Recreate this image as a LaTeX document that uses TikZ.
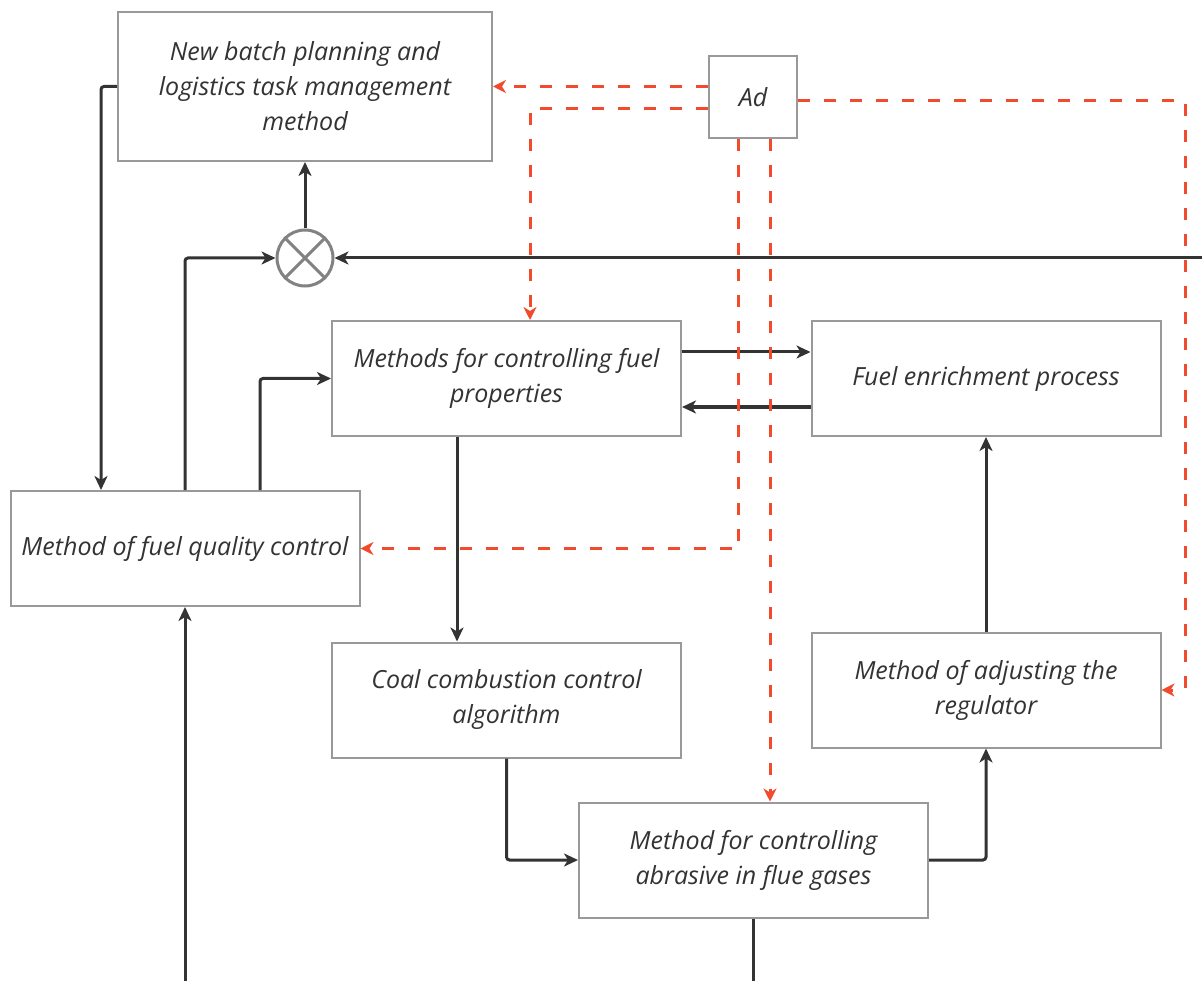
\documentclass[tikz,border=0pt]{standalone}
\usepackage{fontspec}
\setmainfont{Open Sans}
\usetikzlibrary{arrows.meta, calc, positioning}
\definecolor{lineDark}{HTML}{333333}
\definecolor{boxGray}{HTML}{999999}
\definecolor{adRed}{HTML}{F24A2C}
\tikzset{
    blockBox/.style={draw=boxGray, line width=2pt, fill=white, inner sep=2pt, align=center, text=lineDark, font=\fontsize{25}{35}\selectfont\itshape, minimum width=349pt, minimum height=115pt},
    sumNode/.style={circle, draw=boxGray!85!black, line width=3pt, fill=white, minimum size=56pt, inner sep=0pt},
    flowEdge/.style={-{Stealth[length=14pt, width=13pt, inset=4pt]}, line width=3pt, draw=lineDark, rounded corners=3pt},
    flowLine/.style={line width=3pt, draw=lineDark},
    adEdge/.style={-{Stealth[length=13pt, width=13pt, inset=4pt]}, line width=3pt, draw=adRed, dash pattern=on 12pt off 14pt},
}
\newcommand{\drawLink}[3][flowEdge]{
    \draw[#1] (#2) -- (#3);
}

\begin{document}
\begin{tikzpicture}[x=1pt, y=-1pt]
        \useasboundingbox (0,0) rectangle (1202,981);

        \node[blockBox, minimum width=374pt, minimum height=149pt] (NB) at (305, 86.5) {New batch planning and\\logistics task management\\method};
        \node[blockBox, minimum width=88pt, minimum height=82pt] (Ad) at (753, 97) {Ad};
        \node[sumNode] (S) at (305, 258) {};
        \node[blockBox] (MP) at (506.5, 378.5) {Methods for controlling fuel\\properties};
        \node[blockBox] (FE) at (986, 378.5) {Fuel enrichment process};
        \node[blockBox] (QC) at (185, 548.5) {Method of fuel quality control};
        \node[blockBox] (CC) at (506.5, 700) {Coal combustion control\\algorithm};
        \node[blockBox] (AR) at (986, 690) {Method of adjusting the\\regulator};
        \node[blockBox] (AB) at (753.5, 860) {Method for controlling\\abrasive in flue gases};
        \coordinate (edgeR) at (1202, 258);
        \coordinate (edgeL) at (185, 981);
        \coordinate (edgeB) at (753.5, 981);
        \coordinate (adTurn) at (1185, 101);

        % summing junction
        \draw[line width=3pt, draw=boxGray!85!black] (S.north west) -- (S.south east);
        \draw[line width=3pt, draw=boxGray!85!black] (S.north east) -- (S.south west);
        \drawLink{edgeR}{S.east}
        \drawLink{S.north}{NB.south}
        \draw[flowEdge] (QC.north) |- (S.west);
        \draw[flowEdge] (NB.west) -| ([xshift=-84pt]QC.north);

        % main chain
        \draw[flowEdge] ([xshift=75pt]QC.north) |- (MP.west);
        \drawLink{[yshift=26.5pt]MP.east}{[yshift=26.5pt]FE.west}
        \drawLink{[yshift=-28.5pt]FE.west}{[yshift=-28.5pt]MP.east}
        \drawLink{[xshift=-49.5pt]MP.south}{[xshift=-49.5pt]CC.north}
        \draw[flowEdge] (CC.south) |- (AB.west);
        \draw[flowEdge] (AB.east) -| (AR.south);
        \drawLink{AR.north}{FE.south}
        \drawLink[flowLine]{AB.south}{edgeB}
        \drawLink{edgeL}{QC.south}

        % Ad influences
        \drawLink[adEdge]{Ad.west |- NB.east}{NB.east}
        \draw[adEdge] ([yshift=-12pt]Ad.west) -| ([xshift=23.5pt]MP.north);
        \draw[adEdge] ([yshift=-4pt]Ad.east) -- (adTurn) |- (AR.east);
        \draw[adEdge] ([xshift=-15pt]Ad.south) |- (QC.east);
        \drawLink[adEdge]{[xshift=17pt]Ad.south}{[xshift=17pt]Ad.south |- AB.north}

    \end{tikzpicture}
\end{document}
